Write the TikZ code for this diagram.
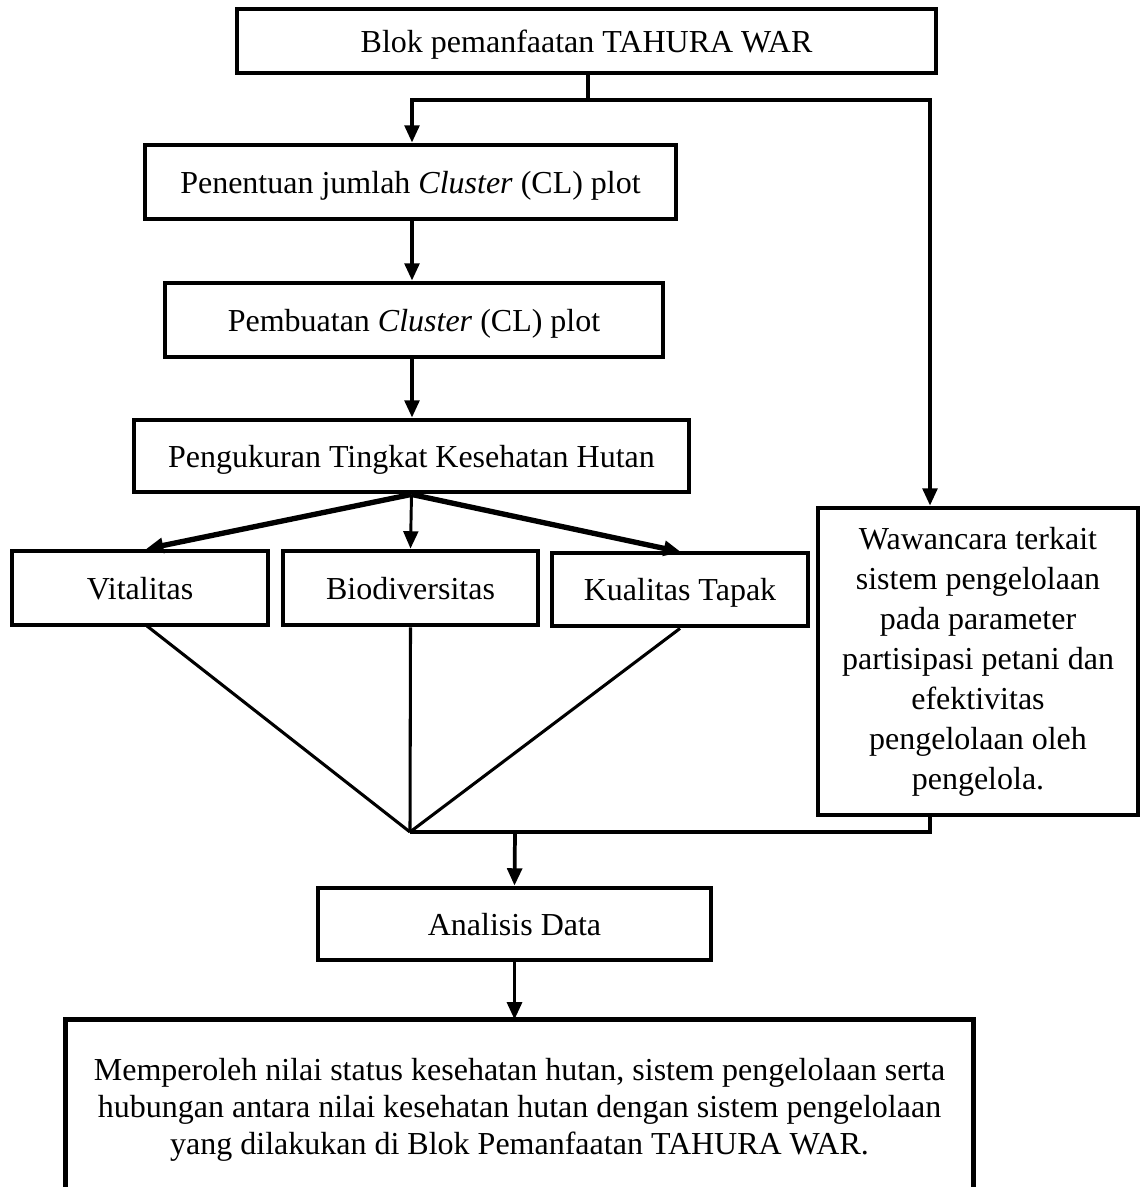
\documentclass[tikz,border=0pt]{standalone}
\usepackage{fontspec}
\setmainfont{Liberation Serif}
\usetikzlibrary{arrows.meta}
\begin{document}
\begin{tikzpicture}[x=0.375pt,y=-0.375pt,
  box/.style={draw,line width=1.8pt,inner sep=0pt,align=center,font=\fontsize{12pt}{15pt}\selectfont},
  onel/.style={text depth=0pt},
  conn/.style={line width=1.4pt},
  thinconn/.style={line width=1.15pt},
  arr/.style={line width=1.4pt,-{Triangle[length=6.5pt,width=5.5pt]}},
  thinarr/.style={line width=1.1pt,-{Triangle[length=6.5pt,width=5.5pt]}},
  thickarr/.style={line width=2pt,-{Triangle[length=6.5pt,width=5.5pt]}}]
\useasboundingbox (0,0) rectangle (1143,1187);
% nodes
\node[box,onel,minimum width=262.1pt,minimum height=24pt] (top) at (586.5,41) {Blok pemanfaatan TAHURA WAR};
\node[box,onel,minimum width=199.1pt,minimum height=27.75pt] (b2) at (410.5,182) {Penentuan jumlah \textit{Cluster} (CL) plot};
\node[box,onel,minimum width=186.75pt,minimum height=27.75pt] (b3) at (414,320) {Pembuatan \textit{Cluster} (CL) plot};
\node[box,onel,minimum width=208.1pt,minimum height=27pt] (b4) at (411.5,456) {Pengukuran Tingkat Kesehatan Hutan};
\node[box,onel,minimum width=96pt,minimum height=27.75pt] (vit) at (140,588) {Vitalitas};
\node[box,onel,minimum width=95.6pt,minimum height=27.75pt] (bio) at (410.5,588) {Biodiversitas};
\node[box,onel,minimum width=96pt,minimum height=27.4pt] (kua) at (680,589.5) {Kualitas Tapak};
\node[box,minimum width=120pt,minimum height=115.1pt] (waw) at (978,661.5) {Wawancara terkait\\sistem pengelolaan\\pada parameter\\partisipasi petani dan\\efektivitas\\pengelolaan oleh\\pengelola.};
\node[box,onel,minimum width=147.4pt,minimum height=27pt] (ana) at (514.5,924) {Analisis Data};
\node[box,draw=none,minimum width=338.6pt,minimum height=61.9pt] (bot) at (519.5,1104.5) {};
\node[box,draw=none,font=\fontsize{12pt}{14pt}\selectfont] (bottxt) at (519.5,1110) {Memperoleh nilai status kesehatan hutan, sistem pengelolaan serta\\hubungan antara nilai kesehatan hutan dengan sistem pengelolaan\\yang dilakukan di Blok Pemanfaatan TAHURA WAR.};
\draw[line width=1.8pt] (bot.south west) -- (bot.north west) -- (bot.north east) -- (bot.south east);
% coordinates
\coordinate (j) at (588,100);
\coordinate (jl) at (412,100);
\coordinate (jr) at (930,100);
\coordinate (m) at (410,832);
\coordinate (m2) at (515,832);
% connectors
\draw[conn] (top.south -| j) -- (j);
\draw[arr] (j) -| (jl |- b2.north);
\draw[arr] (j) -| (jr |- waw.north);
\draw[arr] (jl |- b2.south) -- (jl |- b3.north);
\draw[arr] (jl |- b3.south) -- (jl |- b4.north);
\draw[thickarr] (b4.south) -- (146,549);
\draw[thinarr] (b4.south) -- (bio.north);
\draw[thickarr] (b4.south) -- (681,552);
\draw[thinconn] (147,626) -- (m);
\draw[thinconn] (bio.south) -- (m);
\draw[thinconn] (kua.south) -- (m);
\draw[conn] (m) -- (m -| jr) -- (waw.south -| jr);
\draw[arr] (m2) -- (ana.north);
\draw[arr] (ana.south) -- (bot.north -| ana.south);
\end{tikzpicture}
\end{document}
